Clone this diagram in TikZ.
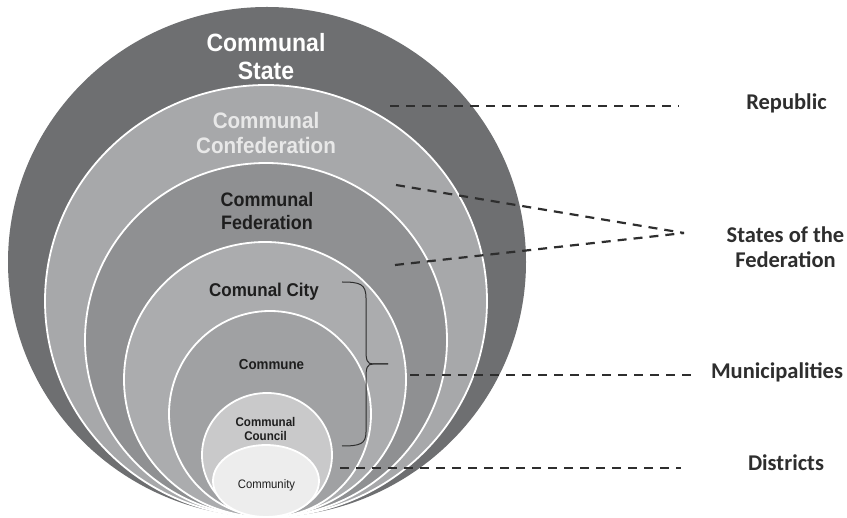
\documentclass[tikz,border=0pt]{standalone}
\usepackage{fontspec}
\newfontfamily\ringfont[FakeStretch=0.92]{Liberation Sans}
\newfontfamily\sidefont{Carlito}
\definecolor{ringA}{HTML}{6E6F71}
\definecolor{ringB}{HTML}{A7A8AA}
\definecolor{ringC}{HTML}{8F9092}
\definecolor{ringD}{HTML}{ABACAE}
\definecolor{ringE}{HTML}{A0A1A3}
\definecolor{ringF}{HTML}{C9C9CA}
\definecolor{ringG}{HTML}{EDEDED}
\definecolor{ink}{HTML}{1E1E1E}
\definecolor{sideink}{HTML}{2E2E2E}
\definecolor{softwhite}{HTML}{E8E8E8}
\begin{document}
\begin{tikzpicture}[x=1pt,y=-1pt,
  ring/.style={draw=white,line width=1.8pt},
  ringlbl/.style={inner sep=0pt,align=center,text=ink},
  sidelbl/.style={inner sep=0pt,align=center,text=sideink,
    font=\sidefont\bfseries\fontsize{22.5}{25}\selectfont},
  leader/.style={draw=sideink,line width=2.2pt,dash pattern=on 9pt off 7pt},
  bracket/.style={draw=sideink,line width=1pt}]
\useasboundingbox[fill=white] (0,0) rectangle (847,518);

% nested levels, all touching at the bottom
\fill[ringA] (267,262) ellipse [x radius=259pt,y radius=255pt];
\path[ring,fill=ringB] (266,301) ellipse [x radius=221pt,y radius=216pt];
\path[ring,fill=ringC] (266,340) ellipse [x radius=181pt,y radius=177pt];
\path[ring,fill=ringD] (265,379.5) ellipse [x radius=141pt,y radius=137.5pt];
\path[ring,fill=ringE] (270,414) ellipse [x radius=101pt,y radius=103pt];
\path[ring,fill=ringF] (267,455) ellipse [x radius=65pt,y radius=62pt];
\path[ring,fill=ringG] (266,481) ellipse [x radius=53pt,y radius=36pt];

% level names
\node[ringlbl,text=white,font=\ringfont\bfseries\fontsize{25}{28}\selectfont]
  (l-state) at (266,57) {Communal\\State};
\node[ringlbl,text=softwhite,font=\ringfont\bfseries\fontsize{22.4}{25}\selectfont]
  (l-confed) at (266,132.5) {Communal\\Confederation};
\node[ringlbl,font=\ringfont\bfseries\fontsize{19.5}{23}\selectfont]
  (l-fed) at (267,211.5) {Communal\\Federation};
\node[ringlbl,anchor=base,font=\ringfont\bfseries\fontsize{18.5}{22}\selectfont]
  (l-city) at (264,297) {Comunal City};
\node[ringlbl,anchor=base,font=\ringfont\bfseries\fontsize{14.5}{17}\selectfont]
  (l-commune) at (271.5,370) {Commune};
\node[ringlbl,font=\ringfont\bfseries\fontsize{12.6}{14}\selectfont]
  (l-council) at (265.5,428.5) {Communal\\Council};
\node[ringlbl,anchor=base,font=\ringfont\fontsize{12.3}{14}\selectfont]
  (l-community) at (266.5,489) {Community};

% territorial levels
\node[sidelbl,anchor=base] (r-rep) at (786.5,110) {Republic};
\node[sidelbl] (r-states) at (785.5,247.5) {States of the\\Federation};
\node[sidelbl,anchor=base] (r-mun) at (777,379) {Municipalities};
\node[sidelbl,anchor=base] (r-dis) at (786,471) {Districts};

% leader lines
\coordinate (rep-s) at (390,106);
\coordinate (rep-e) at (679,106);
\coordinate (st-a) at (396,185);
\coordinate (st-b) at (395,265);
\coordinate (st-e) at (684,233);
\coordinate (mu-s) at (410,375);
\coordinate (mu-e) at (694,375);
\coordinate (di-s) at (340,468);
\coordinate (di-e) at (681,468);
\draw[leader] (rep-s) -- (rep-e);
\draw[leader] (st-a) -- (st-e);
\draw[leader] (st-b) -- (st-e);
\draw[leader] (mu-s) -- (mu-e);
\draw[leader] (di-s) -- (di-e);

% brace grouping city, commune and council
\coordinate (br-top) at (342,282);
\coordinate (br-tip) at (388,364);
\coordinate (br-bot) at (342,446);
\draw[bracket] (br-top) .. controls (360,282) and (366,284) .. (366,298)
  -- (366,350) .. controls (366,360) and (367,364) .. (373,364) -- (br-tip);
\draw[bracket] (br-tip) -- (373,364) .. controls (367,364) and (366,368) .. (366,378)
  -- (366,432) .. controls (366,444) and (360,446) .. (br-bot);
\end{tikzpicture}
\end{document}
